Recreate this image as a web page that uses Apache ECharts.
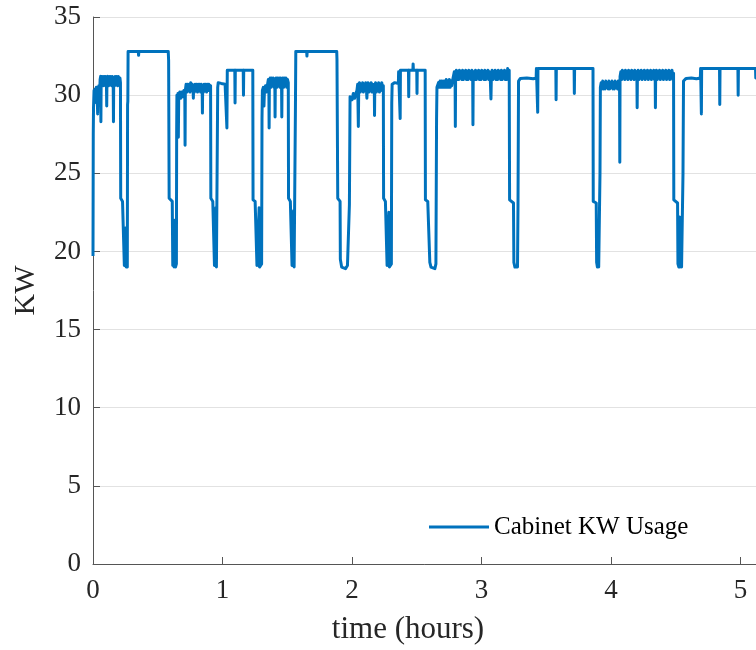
<!DOCTYPE html>
<html>
<head>
<meta charset="utf-8">
<script src="https://cdn.jsdelivr.net/npm/echarts@6/dist/echarts.min.js"></script>
<style>
  html, body { margin: 0; padding: 0; background: #fff; }
  #chart { width: 756px; height: 650px; }
</style>
</head>
<body>
<div id="chart"></div>
<script>
// Cabinet power draw, [time in hours, kW] pairs, one array per duty cycle.
const run1 = [
  [0.000,19.7],[0.002,27.5],[0.004,29.2],[0.008,30.3],[0.012,29.5],[0.016,30.4],[0.020,29.8],[0.026,30.5],
  [0.032,30.1],[0.036,28.8],[0.039,30.3],[0.045,30.6],[0.052,30.3],[0.055,31.0],[0.059,31.2],[0.061,28.3],
  [0.063,30.9],[0.068,31.2],[0.073,30.6],[0.078,31.2],[0.083,30.6],[0.088,31.2],[0.093,30.7],[0.098,31.2],
  [0.104,30.6],[0.106,29.3],[0.108,31.0],[0.114,31.2],[0.120,30.6],[0.126,31.2],[0.132,30.7],[0.138,31.2],
  [0.144,30.6],[0.150,31.2],[0.156,30.7],[0.158,28.3],[0.160,31.0],[0.166,30.6],[0.172,31.2],[0.178,30.7],
  [0.184,31.2],[0.190,30.6],[0.196,31.2],[0.202,30.7],[0.208,31.1],[0.212,30.8],
  [0.214,23.4],[0.228,23.2],[0.240,23.1],[0.242,19.1],[0.247,19.0],[0.252,21.5],[0.256,19.0],[0.262,19.2],
  [0.265,19.0],[0.267,29.4],[0.269,29.6]
];
const block1 = [
  [0.271,32.8],[0.350,32.8],[0.352,32.55],[0.354,32.8],[0.581,32.8],[0.584,32.2],[0.588,23.4],[0.612,23.2],
  [0.616,19.1],[0.622,21.8],[0.626,19.0],[0.632,22.0],[0.637,19.0],[0.644,19.2],[0.646,27.6]
];
const run2 = [
  [0.648,30.0],[0.652,29.7],[0.656,30.1],[0.659,27.3],[0.662,30.0],[0.670,30.2],[0.678,29.8],[0.686,30.2],
  [0.694,29.9],[0.702,30.3],[0.709,30.0],[0.711,26.8],[0.713,30.3],[0.719,30.7],[0.725,30.2],[0.731,30.7],
  [0.737,30.3],[0.743,30.7],[0.749,30.2],[0.755,30.8],[0.761,30.3],[0.767,30.7],[0.773,30.3],[0.775,29.8],
  [0.777,30.6],[0.783,30.2],[0.789,30.7],[0.795,30.3],[0.801,30.7],[0.807,30.2],[0.813,30.7],[0.819,30.3],
  [0.825,30.7],[0.831,30.2],[0.837,30.7],[0.843,30.3],[0.845,28.85],[0.847,30.6],[0.853,30.2],[0.859,30.7],
  [0.865,30.3],[0.871,30.7],[0.877,30.2],[0.883,30.7],[0.889,30.3],[0.895,30.7],[0.901,30.3],[0.908,30.6],
  [0.910,23.4],[0.925,23.2],[0.936,23.1],[0.938,19.1],[0.944,19.0],[0.949,22.8],[0.953,19.0],[0.960,19.1]
];
const run3 = [
  [0.963,30.5],[0.967,30.8],[0.990,30.75],[1.020,30.7],[1.032,30.75],[1.034,27.9],[1.037,31.6],[1.095,31.6],
  [1.097,29.5],[1.099,31.6],[1.160,31.6],[1.162,30.0],[1.164,31.6],[1.234,31.6],
  [1.236,23.3],[1.252,23.2],[1.264,23.1],[1.266,19.1],[1.272,19.0],[1.280,19.2],[1.283,22.8],[1.286,19.0],
  [1.298,19.0],[1.302,19.2],[1.305,28.5]
];
const run4 = [
  [1.308,30.3],[1.315,30.5],[1.320,29.3],[1.324,30.3],[1.332,30.6],[1.340,30.2],[1.348,30.7],[1.354,31.0],
  [1.358,30.6],[1.360,27.9],[1.362,30.8],[1.368,31.1],[1.374,30.5],[1.380,31.1],[1.386,30.6],[1.392,31.1],
  [1.398,30.5],[1.404,31.0],[1.406,28.6],[1.408,30.9],[1.414,31.1],[1.420,30.5],[1.426,31.1],[1.432,30.6],
  [1.438,31.1],[1.444,30.5],[1.450,31.1],[1.456,30.6],[1.458,28.6],[1.460,30.9],[1.466,31.1],[1.472,30.5],
  [1.478,31.1],[1.484,30.6],[1.490,31.1],[1.496,30.5],[1.502,31.0],[1.508,30.8],
  [1.510,23.4],[1.524,23.2],[1.535,23.1],[1.537,19.1],[1.543,19.0],[1.549,22.6],[1.553,19.0],[1.560,19.1],
  [1.563,29.0]
];
const block2 = [
  [1.566,32.8],[1.650,32.8],[1.652,32.5],[1.654,32.8],[1.882,32.8],[1.884,32.3],[1.890,23.4],[1.908,23.2],
  [1.910,19.5],[1.920,19.0],[1.935,19.1],[1.950,18.9],[1.965,19.1],[1.973,19.0],[1.980,23.0]
];
const run5 = [
  [1.985,29.9],[1.992,30.0],[2.000,29.7],[2.010,30.1],[2.020,29.8],[2.030,30.1],[2.038,30.3],[2.044,30.7],
  [2.049,28.0],[2.052,30.5],[2.058,30.8],[2.064,30.2],[2.070,30.7],[2.076,30.3],[2.082,30.8],[2.088,30.2],
  [2.094,30.7],[2.100,30.3],[2.106,30.8],[2.112,30.3],[2.115,29.8],[2.118,30.5],[2.124,30.8],[2.130,30.2],
  [2.136,30.7],[2.142,30.3],[2.148,30.8],[2.154,30.2],[2.160,30.7],[2.166,30.3],[2.172,30.7],[2.174,28.7],
  [2.176,30.5],[2.182,30.8],[2.188,30.2],[2.194,30.7],[2.200,30.3],[2.206,30.8],[2.212,30.2],[2.218,30.7],
  [2.224,30.3],[2.230,30.8],[2.236,30.4],[2.242,30.6],
  [2.244,23.4],[2.258,23.2],[2.269,23.1],[2.271,19.1],[2.278,19.0],[2.285,22.5],[2.289,19.0],[2.298,19.1],
  [2.304,19.2],[2.307,29.5]
];
const run6 = [
  [2.310,30.7],[2.330,30.8],[2.358,30.75],[2.360,31.5],[2.370,31.6],[2.372,28.5],[2.374,31.6],[2.436,31.6],
  [2.438,29.9],[2.440,31.6],[2.470,31.6],[2.472,32.0],[2.474,31.6],[2.500,31.6],[2.502,30.1],[2.504,31.6],
  [2.565,31.6],
  [2.567,23.3],[2.585,23.2],[2.598,23.1],[2.601,19.3],[2.610,19.0],[2.625,19.1],[2.640,18.9],[2.648,19.2],
  [2.653,28.5]
];
const run7 = [
  [2.656,30.5],[2.662,30.4],[2.668,30.8],[2.674,30.5],[2.680,30.9],[2.686,30.5],[2.692,30.9],[2.698,30.5],
  [2.704,30.9],[2.710,30.5],[2.716,30.9],[2.722,30.5],[2.728,31.0],[2.734,30.5],[2.740,30.9],[2.746,30.5],
  [2.752,31.0],[2.758,30.5],[2.764,30.9],[2.770,30.6],[2.778,31.0],[2.784,31.0],[2.790,31.5],[2.796,31.0],
  [2.798,28.0],[2.800,31.1],[2.806,31.6],[2.812,31.0],[2.818,31.5],[2.824,31.0],[2.830,31.6],[2.836,31.1],
  [2.842,31.5],[2.848,31.0],[2.854,31.6],[2.860,31.0],[2.866,31.5],[2.872,31.1],[2.878,31.6],[2.884,31.0],
  [2.890,31.5],[2.896,31.0],[2.902,31.6],[2.908,31.1],[2.914,31.5],[2.920,31.0],[2.926,31.6],[2.932,31.0],
  [2.934,28.1],[2.936,31.1],[2.942,31.5],[2.948,31.0],[2.954,31.6],[2.960,31.0],[2.966,31.5],[2.972,31.1],
  [2.978,31.6],[2.984,31.0],[2.990,31.5],[2.996,31.0],[3.002,31.6],[3.008,31.1],[3.014,31.5],[3.020,31.0],
  [3.026,31.6],[3.032,31.0],[3.038,31.5],[3.044,31.1],[3.050,31.6],[3.056,31.0],[3.062,31.5],[3.068,31.0],
  [3.073,29.75],[3.076,31.1],[3.082,31.6],[3.088,31.0],[3.094,31.5],[3.100,31.1],[3.106,31.6],[3.112,31.0],
  [3.118,31.5],[3.124,31.0],[3.130,31.6],[3.136,31.1],[3.142,31.5],[3.148,31.0],[3.154,31.6],[3.160,31.0],
  [3.166,31.5],[3.172,31.1],[3.178,31.6],[3.184,31.0],[3.190,31.5],[3.196,31.0],[3.202,31.7],[3.208,31.1],
  [3.214,31.6],
  [3.217,23.3],[3.232,23.2],[3.247,23.1],[3.250,19.3],[3.258,19.0],[3.270,19.1],[3.278,19.0],[3.282,23.0]
];
const run8 = [
  [3.286,30.9],[3.300,31.07],[3.350,31.1],[3.400,31.05],[3.422,31.1],[3.424,31.7],[3.432,31.7],[3.434,28.9],
  [3.436,31.7],[3.574,31.7],[3.576,29.7],[3.578,31.7],[3.715,31.7],[3.717,30.1],[3.719,31.7],[3.861,31.7],
  [3.863,23.2],[3.877,23.2],[3.886,23.1],[3.889,19.3],[3.895,19.0],[3.900,22.0],[3.905,19.0],[3.912,19.1],
  [3.915,25.0]
];
const run9 = [
  [3.918,30.5],[3.924,30.8],[3.930,30.4],[3.936,30.9],[3.942,30.4],[3.948,30.8],[3.954,30.4],[3.960,30.9],
  [3.966,30.5],[3.972,30.8],[3.978,30.4],[3.984,30.9],[3.990,30.4],[3.996,30.8],[4.002,30.5],[4.008,30.9],
  [4.014,30.4],[4.020,30.8],[4.026,30.4],[4.032,30.9],[4.038,30.5],[4.044,30.8],[4.050,30.4],[4.056,30.9],
  [4.062,30.5],[4.066,30.8],[4.068,25.7],[4.070,31.2],[4.076,31.5],[4.082,31.0],[4.088,31.6],[4.094,31.1],
  [4.100,31.5],[4.106,31.0],[4.112,31.6],[4.118,31.1],[4.124,31.5],[4.130,31.0],[4.136,31.6],[4.142,31.1],
  [4.148,31.5],[4.154,31.0],[4.160,31.6],[4.166,31.1],[4.172,31.5],[4.178,31.0],[4.184,31.6],[4.190,31.1],
  [4.196,31.5],[4.200,31.1],[4.202,29.2],[4.204,31.2],[4.210,31.6],[4.216,31.0],[4.222,31.5],[4.228,31.1],
  [4.234,31.6],[4.240,31.0],[4.246,31.5],[4.252,31.1],[4.258,31.6],[4.264,31.0],[4.270,31.5],[4.276,31.1],
  [4.282,31.6],[4.288,31.0],[4.294,31.5],[4.300,31.1],[4.306,31.6],[4.312,31.0],[4.318,31.5],[4.324,31.1],
  [4.330,31.6],[4.336,31.0],[4.341,31.4],[4.343,29.2],[4.345,31.2],[4.351,31.6],[4.357,31.0],[4.363,31.5],
  [4.369,31.1],[4.375,31.6],[4.381,31.0],[4.387,31.5],[4.393,31.1],[4.399,31.6],[4.405,31.0],[4.411,31.5],
  [4.417,31.1],[4.423,31.6],[4.429,31.0],[4.435,31.5],[4.441,31.1],[4.447,31.6],[4.453,31.0],[4.459,31.5],
  [4.465,31.1],[4.471,31.6],[4.477,31.0],[4.483,31.4],
  [4.485,23.3],[4.500,23.2],[4.514,23.1],[4.517,19.2],[4.524,19.0],[4.530,22.2],[4.534,19.0],[4.540,22.0],
  [4.545,19.0],[4.552,19.1],[4.556,25.0]
];
const run10 = [
  [4.560,30.9],[4.580,31.07],[4.620,31.1],[4.660,31.05],[4.690,31.1],[4.692,31.7],[4.696,31.7],[4.698,28.8],
  [4.700,31.7],[4.838,31.7],[4.840,29.4],[4.842,31.7],[4.980,31.7],[4.982,30.0],[4.984,31.7],[5.116,31.7],
  [5.118,31.1],[5.120,31.7],[5.300,31.7]
];

const seriesName = 'Cabinet KW Usage';
const xName = 'time (hours)';
const yName = 'KW';

const usage = [].concat(run1, block1, run2, run3, run4, block2, run5, run6, run7, run8, run9, run10);

const serif = '"Liberation Serif", "Times New Roman", serif';
const axisColor = '#555555';
const textColor = '#262626';

const chart = echarts.init(document.getElementById('chart'), null, { renderer: 'canvas' });
chart.setOption({
  animation: false,
  backgroundColor: '#ffffff',
  // the time axis runs on past the right edge of the canvas
  grid: { left: 93, top: 17, width: 777, height: 547, containLabel: false, outerBoundsMode: 'none' },
  legend: {
    data: [seriesName],
    left: 429,
    top: 512,
    padding: 0,
    icon: 'rect',
    itemWidth: 60,
    itemHeight: 3,
    textStyle: { fontFamily: serif, fontSize: 25, color: '#000', lineHeight: 30 }
  },
  xAxis: {
    type: 'value',
    min: 0,
    max: 6,
    interval: 1,
    name: xName,
    nameLocation: 'middle',
    nameGap: 50,
    nameTextStyle: { fontFamily: serif, fontSize: 31, color: textColor, padding: [0, 147, 0, 0] },
    axisLine: { show: true, onZero: false, lineStyle: { color: axisColor, width: 1 } },
    axisTick: { show: true, inside: true, length: 7, lineStyle: { color: axisColor } },
    axisLabel: { margin: 13, fontFamily: serif, fontSize: 27, color: textColor },
    splitLine: { show: false }
  },
  yAxis: {
    type: 'value',
    min: 0,
    max: 35,
    interval: 5,
    name: yName,
    nameLocation: 'middle',
    nameGap: 52,
    nameTextStyle: { fontFamily: serif, fontSize: 30, color: textColor },
    axisLine: { show: true, lineStyle: { color: axisColor, width: 1 } },
    axisTick: { show: true, inside: true, length: 7, lineStyle: { color: axisColor } },
    axisLabel: { margin: 12, fontFamily: serif, fontSize: 27, color: textColor },
    splitLine: { show: true, lineStyle: { color: '#e2e2e2', width: 1 } }
  },
  series: [{
    name: seriesName,
    type: 'line',
    data: usage,
    showSymbol: false,
    symbol: 'none',
    clip: true,
    color: '#0072BD',
    lineStyle: { color: '#0072BD', width: 3, join: 'round' }
  }]
});
</script>
</body>
</html>
